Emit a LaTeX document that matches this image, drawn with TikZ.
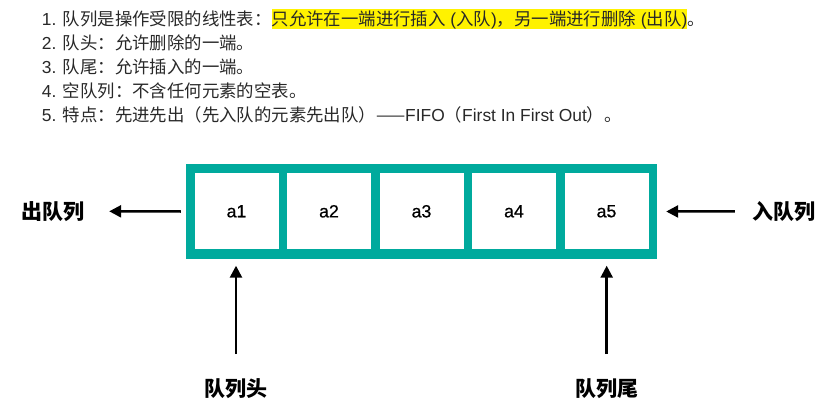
\documentclass[tikz,border=0pt]{standalone}
\usepackage{fontspec}
\setmainfont{Liberation Sans}
\newfontfamily\cjk{Noto Sans CJK SC}
\newfontfamily\medsans[FakeBold=0.6]{Liberation Sans}
\usetikzlibrary{arrows.meta}
\definecolor{qteal}{RGB}{0,170,157}
\definecolor{txt}{RGB}{40,40,40}
\newcommand\zhc[1]{{\cjk #1}}
\newcommand\hl[1]{{\setlength{\fboxsep}{0pt}\colorbox{yellow}{\rule[-2.8pt]{0pt}{19pt}#1}}}
\begin{document}
\begin{tikzpicture}[x=1pt,y=-1pt,
  line/.style={anchor=base west,inner sep=0pt,font=\fontsize{17.4}{20}\selectfont,text=txt},
  cell/.style={fill=white,minimum width=84pt,minimum height=76pt,inner sep=0pt,font=\fontsize{17.7}{20}\selectfont\medsans,text=black},
  lab/.style={inner sep=0pt,font=\fontsize{21}{24}\selectfont\cjk\bfseries,text=black},
  arr/.style={line width=2.5pt,-{Triangle[length=12pt,width=12pt]}}]
\useasboundingbox (0,0) rectangle (835,417);
% text lines
\node[line] (t1) at (41.7,25.6) {1. \zhc{队列是操作受限的线性表：}\hl{\zhc{只允许在一端进行插入} (\zhc{入队})\zhc{，另一端进行删除} (\zhc{出队})}\zhc{。}};
\node[line] (t2) at (41.7,49.6) {2. \zhc{队头：允许删除的一端。}};
\node[line] (t3) at (41.7,73.6) {3. \zhc{队尾：允许插入的一端。}};
\node[line] (t4) at (41.7,97.6) {4. \zhc{空队列：不含任何元素的空表。}};
\node[line] (t5) at (41.7,121.6) {5. \zhc{特点：先进先出（先入队的元素先出队）——}FIFO\zhc{（}First In First Out\zhc{）。}};
% queue
\node[fill=qteal,minimum width=471pt,minimum height=95pt,inner sep=0pt] (queue) at (421.5,211.5) {};
\node[cell] (c1) at (236.5,211.3) {a1};
\node[cell] (c2) at (329,211.3) {a2};
\node[cell] (c3) at (421.5,211.3) {a3};
\node[cell] (c4) at (514,211.3) {a4};
\node[cell] (c5) at (606.5,211.3) {a5};
% labels
\node[lab] (outq) at (52.5,211.3) {出队列};
\node[lab] (inq) at (783.5,211.3) {入队列};
\node[lab] (head) at (236,388.5) {队列头};
\node[lab] (tail) at (606.5,388.5) {队列尾};
% arrows
\draw[arr] ([xshift=-5pt]queue.west) -- ([xshift=25pt]outq.east);
\draw[arr] ([xshift=-17pt]inq.west) -- ([xshift=9pt]queue.east);
\coordinate (h0) at (236,354);
\coordinate (h1) at (236,265.7);
\coordinate (r0) at (606.7,354);
\coordinate (r1) at (606.7,265.7);
\draw[arr] (h0) -- (h1);
\draw[arr] (r0) -- (r1);
\end{tikzpicture}
\end{document}
